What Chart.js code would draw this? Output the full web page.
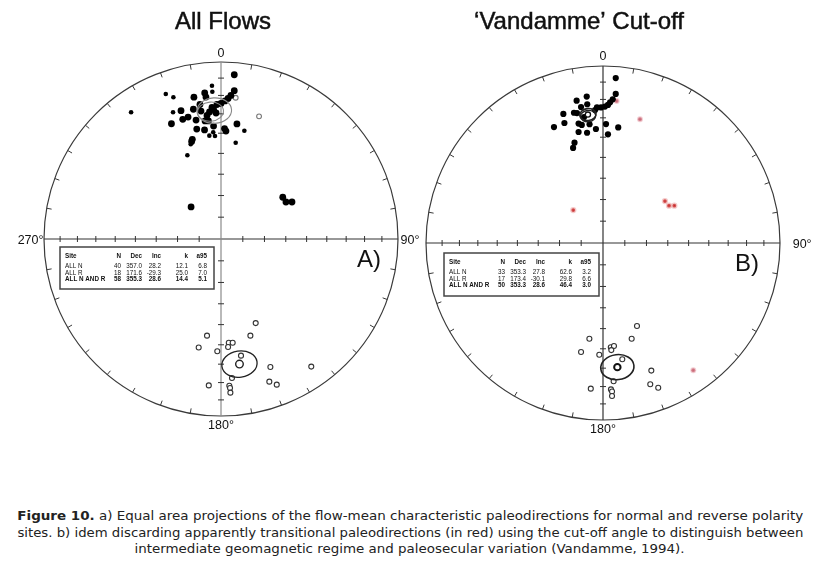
<!DOCTYPE html>
<html>
<head>
<meta charset="utf-8">
<script src="https://cdn.jsdelivr.net/npm/chart.js@4.4.1/dist/chart.umd.min.js"></script>
<style>
html,body{margin:0;padding:0;background:#fff;}
#wrap{position:relative;width:814px;height:563px;overflow:hidden;background:#fff;}
canvas{position:absolute;left:0;top:0;}
#caption{position:absolute;left:3px;top:508px;width:814px;text-align:center;
  font-family:"DejaVu Sans Condensed","DejaVu Sans",sans-serif;font-size:12.4px;line-height:16.5px;color:#222;white-space:nowrap;}
#caption span{display:inline-block;transform-origin:50% 50%;}
</style>
</head>
<body>
<div id="wrap">
  <canvas id="cA" width="814" height="440"></canvas>
  <canvas id="cB" width="814" height="440"></canvas>
  <div id="caption">
    <div><span id="capLine1"><b>Figure 10.</b> a) Equal area projections of the flow-mean characteristic paleodirections for normal and reverse polarity</span></div>
    <div><span id="capLine2">sites. b) idem discarding apparently transitional paleodirections (in red) using the cut-off angle to distinguish between</span></div>
    <div><span id="capLine3">intermediate geomagnetic regime and paleosecular variation (Vandamme, 1994).</span></div>
  </div>
</div>
<script>
// ===== DATA (projection coordinates: [east, north], 1 = primitive circle) =====
// Panel A — All Flows
const aNormalLarge = [
  [0.075,0.928],[-0.153,0.801],[-0.092,0.825],[0.075,0.838],[-0.156,0.733],[-0.226,0.725],
  [-0.280,0.651],[-0.216,0.676],[-0.141,0.672],[-0.042,0.638],[-0.137,0.621],[-0.093,0.616],
  [0.020,0.624],[0.090,0.650],[-0.169,0.181],[0.349,0.236],[0.367,0.209],[0.401,0.209],
  [-0.119,0.760],[-0.085,0.802],[-0.162,0.563],[-0.166,0.551],[-0.090,0.667],[0.028,0.610],
  [-0.071,0.667],[0.056,0.811],[0.040,0.794],[0.023,0.780],[0.000,0.766],[-0.023,0.760],
  [-0.051,0.743],[-0.065,0.718],[-0.079,0.698],[-0.042,0.732],[-0.028,0.712],[-0.186,0.689],
  [-0.113,0.723]
];
const aNormalSmall = [
  [-0.051,0.866],[-0.312,0.819],[-0.269,0.801],[-0.049,0.832],[-0.271,0.716],[0.132,0.612],
  [-0.044,0.603],[-0.066,0.584],[-0.034,0.582],[0.083,0.544],[-0.190,0.473],[-0.508,0.716],
  [-0.171,0.535]
];
const aUpperOpen = [[0.083,0.798],[0.215,0.693]];
const aReverse = [
  [0.196,-0.475],[-0.079,-0.546],[0.166,-0.546],[0.044,-0.586],[0.066,-0.586],[0.040,-0.610],
  [-0.126,-0.613],[-0.021,-0.634],[0.113,-0.659],[0.279,-0.723],[0.510,-0.721],[0.062,-0.785],
  [0.273,-0.806],[0.315,-0.823],[-0.069,-0.827],[0.047,-0.829],[0.051,-0.842],[0.053,-0.868]
];
// Panel B — 'Vandamme' cut-off
const bNormal = [
  [0.072,0.932],[0.072,0.842],[-0.149,0.804],[-0.092,0.827],[-0.089,0.784],[0.055,0.812],
  [0.040,0.795],[0.028,0.780],[0.011,0.771],[-0.011,0.766],[-0.034,0.766],[-0.045,0.751],
  [-0.224,0.729],[-0.164,0.736],[-0.147,0.734],[-0.124,0.768],[-0.277,0.655],[-0.218,0.678],
  [-0.138,0.675],[-0.120,0.667],[-0.076,0.671],[0.017,0.672],[0.086,0.653],[-0.138,0.627],
  [-0.090,0.623],[-0.040,0.644],[0.028,0.614],[-0.161,0.567],[-0.169,0.537],[-0.107,0.712]
];
const bTransitionalDown = [[-0.168,0.186],[0.350,0.237],[0.373,0.211],[0.403,0.211]];
const bTransitionalUp = [[0.077,0.802],[0.209,0.699],[0.510,-0.719]];
const bReverse = [
  [0.192,-0.469],[-0.077,-0.541],[0.162,-0.541],[0.044,-0.589],[0.062,-0.582],[0.047,-0.605],
  [-0.124,-0.616],[-0.021,-0.631],[0.109,-0.657],[0.273,-0.721],[0.060,-0.781],[0.267,-0.798],
  [0.312,-0.818],[-0.069,-0.823],[0.045,-0.827],[0.051,-0.839],[0.051,-0.864]
];
// Statistics tables
const tableHeader = ['Site','N','Dec','Inc','k','a95'];
const siteNames = ['ALL N','ALL R','ALL N AND R'];
const aN = [40,18,58], aDec = [357.0,171.6,355.3], aInc = [28.2,-29.3,28.6], aK = [12.1,25.0,14.4], aA95 = [6.8,7.0,5.1];
const bN = [33,17,50], bDec = [353.3,173.4,353.3], bInc = [27.8,-30.1,28.6], bK = [62.6,29.8,46.4], bA95 = [3.2,6.6,3.0];
// Labels
const panelTitles = ['All Flows','\u2018Vandamme\u2019 Cut-off'];
const panelLetters = ['A)','B)'];
const cardinalLabels = ['0','90\u00b0','180\u00b0','270\u00b0'];
const inclinationTicks = [10,20,30,40,50,60,70,80];
const azimuthTicks = [10,20,30,40,50,60,70,80,100,110,120,130,140,150,160,170,190,200,210,220,230,240,250,260,280,290,300,310,320,330,340,350];

// ===== helpers =====
const D2R = Math.PI/180;
const eqArea = inc => Math.SQRT2*Math.sin((90-Math.abs(inc))/2*D2R);
const project = (dec,inc) => { const r = eqArea(inc); return {x:r*Math.sin(dec*D2R), y:r*Math.cos(dec*D2R)}; };
const pts = arr => arr.map(p => ({x:p[0], y:p[1]}));
const FONT = '"Liberation Sans", Arial, Helvetica, sans-serif';

function makePlugin(cfg){
  return {
    id:'net'+cfg.key,
    beforeDatasetsDraw(chart){
      const ctx = chart.ctx, xs = chart.scales.x, ys = chart.scales.y;
      const cx = xs.getPixelForValue(0), cy = ys.getPixelForValue(0), R = xs.getPixelForValue(1)-cx;
      ctx.save();
      ctx.strokeStyle = '#3a3a3a'; ctx.lineWidth = 1.2;
      ctx.beginPath(); ctx.arc(cx,cy,R,0,2*Math.PI); ctx.stroke();
      ctx.lineWidth = 1;
      ctx.beginPath();
      azimuthTicks.forEach(az => {
        const s = Math.sin(az*D2R), c = -Math.cos(az*D2R);
        ctx.moveTo(cx+s*R, cy+c*R); ctx.lineTo(cx+s*(R-5), cy+c*(R-5));
      });
      ctx.stroke();
      // horizontal axis
      ctx.strokeStyle = '#333'; ctx.lineWidth = 1.2;
      ctx.beginPath(); ctx.moveTo(cx-R,cy); ctx.lineTo(cx+R,cy); ctx.stroke();
      ctx.lineWidth = 1;
      ctx.beginPath();
      inclinationTicks.forEach(inc => {
        const r = eqArea(inc)*R;
        ctx.moveTo(cx-r,cy-3); ctx.lineTo(cx-r,cy+3);
        ctx.moveTo(cx+r,cy-3); ctx.lineTo(cx+r,cy+3);
      });
      ctx.stroke();
      // vertical axis
      ctx.strokeStyle = cfg.vAxisColor; ctx.lineWidth = 1.2;
      ctx.beginPath(); ctx.moveTo(cx,cy-R); ctx.lineTo(cx,cy+R); ctx.stroke();
      ctx.lineWidth = 1; ctx.strokeStyle = '#333';
      ctx.beginPath();
      inclinationTicks.forEach(inc => {
        const r = eqArea(inc)*R;
        ctx.moveTo(cx-3,cy-r); ctx.lineTo(cx+3,cy-r);
        ctx.moveTo(cx-3,cy+r); ctx.lineTo(cx+3,cy+r);
      });
      ctx.stroke();
      ctx.restore();
    },
    afterDatasetsDraw(chart){
      const ctx = chart.ctx, xs = chart.scales.x, ys = chart.scales.y;
      const scale = xs.getPixelForValue(1)-xs.getPixelForValue(0);
      ctx.save();
      cfg.ellipses.forEach(e => {
        const dec = cfg.dec[e.row], inc = cfg.inc[e.row], a = cfg.a95[e.row]*D2R;
        const th = (90-Math.abs(inc))*D2R;
        const p = project(dec,inc);
        const radial = Math.SQRT2/2*Math.cos(th/2)*a*scale;
        const tang = eqArea(inc)*a/Math.sin(th)*scale;
        ctx.strokeStyle = e.color; ctx.lineWidth = e.width;
        ctx.beginPath();
        ctx.ellipse(xs.getPixelForValue(p.x), ys.getPixelForValue(p.y), tang, radial, dec*D2R, 0, 2*Math.PI);
        ctx.stroke();
      });
      ctx.restore();
    },
    afterDraw(chart){
      const ctx = chart.ctx, xs = chart.scales.x, ys = chart.scales.y;
      const cx = xs.getPixelForValue(0), cy = ys.getPixelForValue(0), R = xs.getPixelForValue(1)-cx;
      ctx.save();
      ctx.fillStyle = '#111';
      ctx.textBaseline = 'alphabetic';
      // title
      ctx.font = '24px '+FONT; ctx.textAlign = 'center';
      ctx.strokeStyle = '#111'; ctx.lineWidth = 0.5;
      ctx.fillText(cfg.title, cfg.titleX, 28.5);
      ctx.strokeText(cfg.title, cfg.titleX, 28.5);
      // cardinal labels
      ctx.font = '12.5px '+FONT;
      ctx.fillText(cardinalLabels[0], cx, cy-R-cfg.topGap);
      ctx.fillText(cardinalLabels[2], cx, cy+R+13.3);
      ctx.textAlign = 'left';
      ctx.fillText(cardinalLabels[1], cx+R+cfg.rightGap, cy+5.3);
      if (cfg.showWest){ ctx.textAlign = 'right'; ctx.fillText(cardinalLabels[3], cx-R-0.5, cy+5.3); }
      // panel letter
      ctx.font = '24px '+FONT; ctx.textAlign = 'left';
      ctx.fillText(cfg.letter, cx+cfg.letterDx, cy+cfg.letterDy);
      // table
      const bx = cx+cfg.box.dx, by = cy+cfg.box.dy, bw = cfg.box.w, bh = cfg.box.h;
      ctx.fillStyle = '#fff'; ctx.fillRect(bx,by,bw,bh);
      ctx.strokeStyle = '#444'; ctx.lineWidth = 1.5; ctx.strokeRect(bx,by,bw,bh);
      ctx.fillStyle = '#111';
      const colRight = [61,82,101,128,147];
      const rowsY = [8.5,19,25.5,32];
      const drawRow = (cells, y, bold) => {
        ctx.font = (bold?'bold ':'')+'6.3px '+FONT;
        ctx.textAlign = 'left'; ctx.fillText(cells[0], bx+5, by+y+2.3);
        ctx.textAlign = 'right';
        for (let i=1;i<cells.length;i++) ctx.fillText(cells[i], bx+colRight[i-1], by+y+2.3);
      };
      drawRow(tableHeader, rowsY[0], true);
      siteNames.forEach((s,i) => {
        drawRow([s, String(cfg.n[i]), cfg.dec[i].toFixed(1), cfg.inc[i].toFixed(1), cfg.k[i].toFixed(1), cfg.a95[i].toFixed(1)], rowsY[i+1], i===2);
      });
      ctx.restore();
    }
  };
}

function makeChart(id, padding, datasets, cfg){
  return new Chart(document.getElementById(id), {
    type:'scatter',
    data:{datasets},
    options:{
      responsive:false, animation:false, devicePixelRatio:1,
      layout:{padding},
      scales:{
        x:{type:'linear', min:-1, max:1, display:false},
        y:{type:'linear', min:-1, max:1, display:false}
      },
      plugins:{legend:{display:false}, tooltip:{enabled:false}, title:{display:false}},
      elements:{point:{pointStyle:'circle'}}
    },
    plugins:[makePlugin(cfg)]
  });
}

const meanA = project(aDec[1], aInc[1]);
const meanBN = project(bDec[0], bInc[0]);
const meanBR = project(bDec[1], bInc[1]);

makeChart('cA', {left:44, top:62, right:416, bottom:24}, [
  {label:'Normal', data:pts(aNormalLarge), pointRadius:3.4, backgroundColor:'#000', borderColor:'#000', borderWidth:0, order:1},
  {label:'Normal (small)', data:pts(aNormalSmall), pointRadius:2.3, backgroundColor:'#000', borderColor:'#000', borderWidth:0, order:1},
  {label:'Upper hemisphere', data:pts(aUpperOpen), pointRadius:2.4, backgroundColor:'#fff', borderColor:'#777', borderWidth:1.1, order:2},
  {label:'Reverse', data:pts(aReverse), pointRadius:2.5, backgroundColor:'#fff', borderColor:'#333', borderWidth:1.1, order:2},
  {label:'Mean R', data:[meanA], pointRadius:3.8, backgroundColor:'#fff', borderColor:'#222', borderWidth:1.4, order:0}
], {
  key:'A', title:panelTitles[0], titleX:223, letter:panelLetters[0], letterDx:136, letterDy:27.5,
  topGap:4.7, rightGap:2.5, showWest:true, vAxisColor:'#8a8a8a',
  box:{dx:-161, dy:8, w:154, h:42},
  n:aN, dec:aDec, inc:aInc, k:aK, a95:aA95,
  ellipses:[{row:0, color:'#8a8a8a', width:1.1},{row:2, color:'#8a8a8a', width:1.1},{row:1, color:'#222', width:1.3}]
});

makeChart('cB', {left:426, top:66, right:34, bottom:20}, [
  {label:'Normal', data:pts(bNormal), pointRadius:3.1, backgroundColor:'#000', borderColor:'#000', borderWidth:0, order:1},
  {label:'Transitional (down)', data:pts(bTransitionalDown), pointRadius:1.9, backgroundColor:'#c42020', borderColor:'rgba(230,140,140,0.45)', borderWidth:2.5, order:2},
  {label:'Transitional (up)', data:pts(bTransitionalUp), pointRadius:2.0, backgroundColor:'#c86a78', borderColor:'rgba(230,160,170,0.5)', borderWidth:2, order:2},
  {label:'Reverse', data:pts(bReverse), pointRadius:2.5, backgroundColor:'#fff', borderColor:'#333', borderWidth:1.1, order:2},
  {label:'Mean', data:[meanBN, meanBR], pointRadius:[2.6,3.2], backgroundColor:'#fff', borderColor:'#111', borderWidth:[1.3,2], order:0}
], {
  key:'B', title:panelTitles[1], titleX:579, letter:panelLetters[1], letterDx:132, letterDy:28,
  topGap:6, rightGap:12.7, showWest:false, vAxisColor:'#333',
  box:{dx:-159, dy:10, w:155, h:43},
  n:bN, dec:bDec, inc:bInc, k:bK, a95:bA95,
  ellipses:[{row:0, color:'#222', width:1.6},{row:2, color:'#222', width:1.3},{row:1, color:'#222', width:1.6}]
});

// fit caption lines to the reference widths
(function fitCaption(){
  const targets = [['capLine1',786],['capLine2',786],['capLine3',550]];
  targets.forEach(([id,tw]) => {
    const el = document.getElementById(id);
    const ww = el.getBoundingClientRect().width;
    if (ww > 0) el.style.transform = 'scaleX('+(tw/ww).toFixed(4)+')';
  });
})();
</script>
</body>
</html>
